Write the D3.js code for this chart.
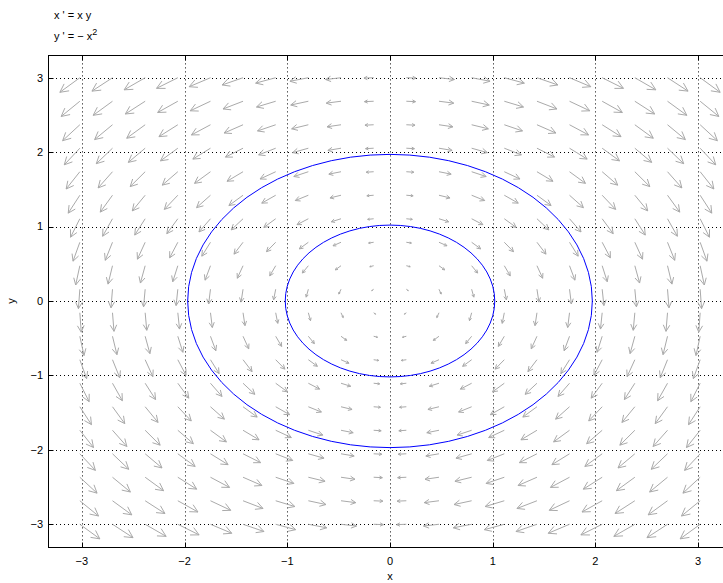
<!DOCTYPE html>
<meta charset="utf-8" />
<title>Phase plane: x' = x y, y' = -x^2</title>
<style>
  body { margin: 0; background: #fff; }
  svg { display: block; font-family: "Liberation Sans", Arial, sans-serif; }
  text { font-size: 11px; fill: #000; }
  .grid line { stroke: #000; stroke-width: 1; stroke-dasharray: 1,3; }
  .frame { fill: none; stroke: #000; stroke-width: 1; }
  .tick { stroke: #000; stroke-width: 1; }
  .arrow { fill: none; stroke: #aaa; stroke-width: 1; }
  .orbit { fill: none; stroke: #0000ff; stroke-width: 1; }
</style>

<body>
  <svg width="723" height="583"></svg>

  <script src="https://d3js.org/d3.v7.min.js"></script>
  <script>
    // window of the phase plane
    const xDomain = [-3.33, 3.33];
    const yDomain = [-3.3, 3.3];
    const xTicks = [-3, -2, -1, 0, 1, 2, 3];
    const yTicks = [-3, -2, -1, 0, 1, 2, 3];

    // direction field sample points (arrow tails)
    const xGrid = [-3.02, -2.702, -2.384, -2.066, -1.748, -1.431, -1.113, -0.795, -0.477, -0.159,
                   0.159, 0.477, 0.795, 1.113, 1.431, 1.748, 2.066, 2.384, 2.702, 3.02];
    const yGrid = [-3.0, -2.684, -2.368, -2.053, -1.737, -1.421, -1.105, -0.789, -0.474, -0.158,
                   0.158, 0.474, 0.789, 1.105, 1.421, 1.737, 2.053, 2.368, 2.684, 3.0];

    // closed solution curves x^2 + y^2 = r^2
    const orbitRadii = [1.02, 1.97];

    // the system shown in the title
    const field = (x, y) => [x * y, -x * x];

    const width = 723, height = 583;
    const svg = d3.select("svg");

    const x = d3.scaleLinear().domain(xDomain).range([48, 732]);
    const y = d3.scaleLinear().domain(yDomain).range([546.6, 55.4]);

    const plot = svg.append("g");

    // dotted grid
    const grid = plot.append("g").attr("class", "grid");
    grid.selectAll("line.v")
      .data(xTicks)
      .join("line")
      .attr("class", "v")
      .attr("x1", d => Math.round(x(d)) + 0.5)
      .attr("x2", d => Math.round(x(d)) + 0.5)
      .attr("y1", y(yDomain[1]))
      .attr("y2", y(yDomain[0]));
    grid.selectAll("line.h")
      .data(yTicks)
      .join("line")
      .attr("class", "h")
      .attr("y1", d => Math.round(y(d)) + 0.5)
      .attr("y2", d => Math.round(y(d)) + 0.5)
      .attr("x1", x(xDomain[0]))
      .attr("x2", x(xDomain[1]));

    // direction field arrows, length saturates with speed
    const arrows = [];
    xGrid.forEach(gx => {
      yGrid.forEach(gy => arrows.push({ gx, gy }));
    });

    const headAngle = 27 * Math.PI / 180;
    function arrowPath(d) {
      const [u, v] = field(d.gx, d.gy);
      const m = Math.hypot(u, v);
      if (m === 0) return "";
      const len = 0.3277 * Math.sqrt(m / (m + 5.26));
      const x0 = x(d.gx), y0 = y(d.gy);
      const x1 = x(d.gx + len * u / m), y1 = y(d.gy + len * v / m);
      const pl = Math.hypot(x1 - x0, y1 - y0);
      const a = Math.atan2(y0 - y1, x0 - x1);
      const h = 0.38 * pl;
      const p = d3.path();
      p.moveTo(x0, y0);
      p.lineTo(x1, y1);
      p.moveTo(x1 + h * Math.cos(a + headAngle), y1 + h * Math.sin(a + headAngle));
      p.lineTo(x1, y1);
      p.lineTo(x1 + h * Math.cos(a - headAngle), y1 + h * Math.sin(a - headAngle));
      return p.toString();
    }

    plot.append("g")
      .selectAll("path")
      .data(arrows)
      .join("path")
      .attr("class", "arrow")
      .attr("d", arrowPath);

    // solution curves
    plot.append("g")
      .selectAll("ellipse")
      .data(orbitRadii)
      .join("ellipse")
      .attr("class", "orbit")
      .attr("cx", x(0))
      .attr("cy", y(0))
      .attr("rx", r => x(r) - x(0))
      .attr("ry", r => y(0) - y(r));

    // frame
    const fLeft = Math.round(x(xDomain[0])) + 0.5, fRight = Math.round(x(xDomain[1])) + 0.5;
    const fTop = Math.round(y(yDomain[1])) + 0.5, fBottom = Math.round(y(yDomain[0])) + 0.5;
    svg.append("rect")
      .attr("class", "frame")
      .attr("x", fLeft).attr("y", fTop)
      .attr("width", fRight - fLeft).attr("height", fBottom - fTop);

    // inward ticks on all sides
    const tl = 5;
    const ticks = svg.append("g");
    xTicks.forEach(t => {
      const px = Math.round(x(t)) + 0.5;
      ticks.append("line").attr("class", "tick")
        .attr("x1", px).attr("x2", px).attr("y1", fBottom).attr("y2", fBottom - tl);
      ticks.append("line").attr("class", "tick")
        .attr("x1", px).attr("x2", px).attr("y1", fTop).attr("y2", fTop + tl);
    });
    yTicks.forEach(t => {
      const py = Math.round(y(t)) + 0.5;
      ticks.append("line").attr("class", "tick")
        .attr("x1", fLeft).attr("x2", fLeft + tl).attr("y1", py).attr("y2", py);
      ticks.append("line").attr("class", "tick")
        .attr("x1", fRight).attr("x2", fRight - tl).attr("y1", py).attr("y2", py);
    });

    const fmt = d => d < 0 ? "\u2212" + Math.abs(d) : String(d);

    svg.append("g")
      .selectAll("text")
      .data(xTicks)
      .join("text")
      .attr("x", d => x(d))
      .attr("y", 565)
      .attr("text-anchor", "middle")
      .text(fmt);

    svg.append("g")
      .selectAll("text")
      .data(yTicks)
      .join("text")
      .attr("x", 43)
      .attr("y", d => y(d))
      .attr("dy", "0.35em")
      .attr("text-anchor", "end")
      .text(fmt);

    // axis labels
    svg.append("text")
      .attr("x", x(0))
      .attr("y", 580)
      .attr("text-anchor", "middle")
      .text("x");
    svg.append("text")
      .attr("transform", `translate(15,${y(0)}) rotate(-90)`)
      .attr("text-anchor", "middle")
      .text("y");

    // equations
    svg.append("text")
      .attr("x", 54)
      .attr("y", 19)
      .text("x ' = x y");
    const eq2 = svg.append("text")
      .attr("x", 54)
      .attr("y", 40);
    eq2.append("tspan").text("y ' = \u2212 x");
    eq2.append("tspan")
      .attr("dy", -5)
      .style("font-size", "9px")
      .text("2");
  </script>
</body>
